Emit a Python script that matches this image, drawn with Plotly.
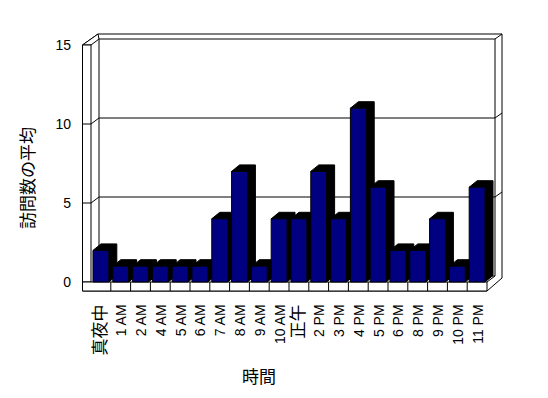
import plotly.graph_objects as go

categories = ["真夜中", "1 AM", "2 AM", "4 AM", "5 AM", "6 AM", "7 AM", "8 AM", "9 AM", "10 AM",
              "正午", "2 PM", "3 PM", "4 PM", "5 PM", "6 PM", "8 PM", "9 PM", "10 PM", "11 PM"]
values = [2, 1, 1, 1, 1, 1, 4, 7, 1, 4, 4, 7, 4, 11, 6, 2, 2, 4, 1, 6]
y_ticks = [0, 5, 10, 15]
y_max = 15
x_title = "時間"
y_title = "訪問数の平均"

# geometry (pixel scale of the pseudo-3D drawing)
UX = 19.8   # px per category
UY = 15.8   # px per value unit
def ox(p): return p / UX
def oy(p): return p / UY

OFF = 8  # page body margin
n = len(categories)
XL, XR = -0.5, n - 0.5
BW = 0.8
# plot area in screen pixels
L, R, T, B = 60, 520, 20, 300
X0PX, Y0PX = 91, 282
xr = [(L - X0PX) / UX - 0.5, (R - X0PX) / UX - 0.5]
yr = [(Y0PX - B) / UY, (Y0PX - T) / UY]

def px(x): return (x - L) / (R - L)
def py(y): return (B - y) / (B - T)

def poly(pts):
    return "M " + " L ".join(f"{x},{y}" for x, y in pts) + " Z"

def line(pts):
    return "M " + " L ".join(f"{x},{y}" for x, y in pts)

shapes = []
base = dict(xref="x", yref="y", layer="below")
blk = dict(color="black", width=1)
# back wall (outer)
shapes.append(dict(type="path", path=poly([(XL + ox(7), y_max + oy(11)), (XR + ox(15), y_max + oy(11)),
                                           (XR + ox(15), oy(4)), (XR, -oy(9)), (XL - ox(8.5), -oy(9)),
                                           (XL - ox(8.5), y_max)]),
                   fillcolor="white", line=blk, **base))
# back wall inner face
shapes.append(dict(type="rect", x0=XL + ox(8), x1=XR + ox(8), y0=oy(6), y1=y_max + oy(6),
                   fillcolor="white", line=blk, **base))
# right wall corner lines
shapes.append(dict(type="path", path=line([(XR + ox(8), y_max + oy(6)), (XR + ox(15), y_max + oy(11))]),
                   line=blk, **base))
shapes.append(dict(type="path", path=line([(XR, 0), (XR + ox(8), oy(6))]), line=blk, **base))
# left wall
shapes.append(dict(type="path", path=poly([(XL - ox(8.5), y_max), (XL, y_max), (XL + ox(8), y_max + oy(6)),
                                           (XL + ox(7), y_max + oy(11))]),
                   fillcolor="white", line=blk, **base))
shapes.append(dict(type="rect", x0=XL - ox(8.5), x1=XL, y0=0, y1=y_max,
                   fillcolor="white", line=blk, **base))
# floor front face
shapes.append(dict(type="rect", x0=XL - ox(8.5), x1=XR, y0=-oy(9), y1=0,
                   fillcolor="white", line=blk, **base))
# gridlines
for v in y_ticks[1:-1]:
    shapes.append(dict(type="path", path=line([(XL, v), (XL + ox(8), v + oy(6)), (XR + ox(8), v + oy(6)),
                                               (XR + ox(15), v + oy(11))]),
                       line=blk, **base))
    shapes.append(dict(type="path", path=line([(XL - ox(8.5), v), (XL, v)]), line=blk, **base))
# category tick marks on floor
for i in range(1, n):
    shapes.append(dict(type="path", path=line([(i - 0.5, 0), (i - 0.5, -oy(9))]), line=blk, **base))
# bar depth (side + top)
dxb, dyb = ox(8), oy(6.5)
for i, v in enumerate(values):
    a, b = i - BW / 2, i + BW / 2
    shapes.append(dict(type="path",
                       path=poly([(b, 0), (b + dxb, dyb), (b + dxb, v + dyb), (a + dxb, v + dyb), (a, v), (b, v)]),
                       fillcolor="black", line=blk, **base))

def tick_text(s):
    if any(ord(c) > 0x2E80 for c in s):
        return s
    return f"<span style='font-size:14px'>{s}</span>"

fig = go.Figure()
fig.add_trace(go.Bar(x=list(range(n)), y=values, width=BW,
                     marker=dict(color="#000080", line=dict(color="black", width=1)),
                     hoverinfo="skip", showlegend=False))

fig.update_layout(
    width=548 - OFF, height=398 - OFF,
    margin=dict(l=L - OFF, r=548 - R, t=T - OFF, b=398 - B, pad=0),
    paper_bgcolor="white", plot_bgcolor="white",
    font=dict(family="Liberation Sans, Noto Sans CJK JP, sans-serif", size=13, color="black"),
    shapes=shapes,
    xaxis=dict(range=xr, showgrid=False, zeroline=False, showline=False,
               tickvals=list(range(n)), ticktext=[tick_text(c) for c in categories],
               tickangle=-90, ticks="", anchor="free", position=py(291),
               tickfont=dict(family="Liberation Sans, Noto Sans CJK JP", size=17, color="black"),
               ticklabelstandoff=9, fixedrange=True),
    yaxis=dict(range=yr, showgrid=False, zeroline=False, showline=False,
               tickvals=y_ticks, ticks="", anchor="free", position=px(82),
               tickfont=dict(size=14, color="black"),
               ticklabelstandoff=11, fixedrange=True),
    annotations=[
        dict(text=y_title, textangle=-90, x=px(26), y=py(178), xanchor="center", yanchor="middle",
             xref="paper", yref="paper", showarrow=False,
             font=dict(family="Noto Sans CJK JP", size=17, color="black")),
        dict(text=x_title, x=px(259), y=py(375), xanchor="center", yanchor="middle",
             xref="paper", yref="paper", showarrow=False,
             font=dict(family="Noto Sans CJK JP", size=17, color="black")),
    ],
)

fig.write_html("out.html")
